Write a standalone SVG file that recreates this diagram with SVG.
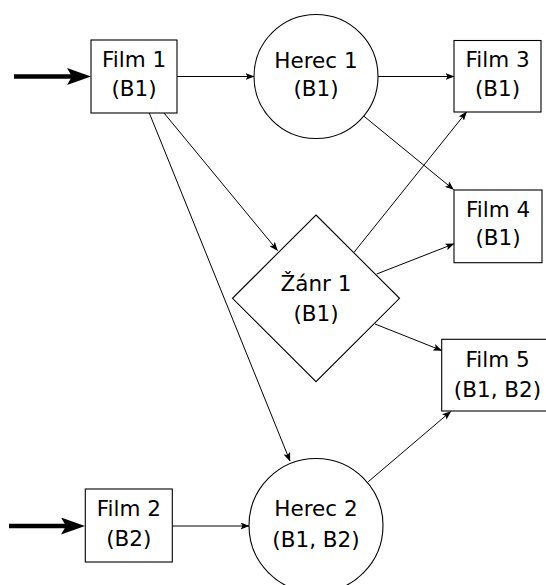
<svg xmlns="http://www.w3.org/2000/svg" width="546" height="585" viewBox="0 0 546 585">
<defs>
<style>
.n{fill:#fff;stroke:#000;stroke-width:1.1}
.t{font-family:"DejaVu Sans",sans-serif;font-size:21.5px;fill:#000;text-anchor:middle}
.c{fill:none;stroke:#000;stroke-width:1}
.th{fill:none;stroke:#000;stroke-width:4.5}
</style>
<marker id="tip" markerUnits="userSpaceOnUse" markerWidth="9" markerHeight="7" refX="8.5" refY="3.5" orient="auto" viewBox="0 0 9 7">
<path d="M0,0 L9,3.5 L0,7 L2,3.5 Z" fill="#000"/>
</marker>
<marker id="big" markerUnits="userSpaceOnUse" markerWidth="24" markerHeight="17" refX="12" refY="8.5" orient="auto" viewBox="0 0 24 17">
<path d="M0,0 L24,8.5 L0,17 L5,8.5 Z" fill="#000"/>
</marker>
</defs>
<g id="connectors">
<path class="th" d="M14,76.5 L79,76.5" marker-end="url(#big)"/>
<path class="th" d="M9,526 L73,526" marker-end="url(#big)"/>
<path class="c" d="M177,76.5 L254,76.5" marker-end="url(#tip)"/>
<path class="c" d="M378,76.5 L454,76.5" marker-end="url(#tip)"/>
<path class="c" d="M363.3,115.7 L453.5,189.5" marker-end="url(#tip)"/>
<path class="c" d="M164,113 L277.5,250.5" marker-end="url(#tip)"/>
<path class="c" d="M149.3,113 L290,461" marker-end="url(#tip)"/>
<path class="c" d="M354,252.3 L466.5,112" marker-end="url(#tip)"/>
<path class="c" d="M376.7,274 L454,243.8" marker-end="url(#tip)"/>
<path class="c" d="M375,324 L441.7,350.5" marker-end="url(#tip)"/>
<path class="c" d="M368.3,481.7 L450.7,411.5" marker-end="url(#tip)"/>
<path class="c" d="M172.3,526 L249,526" marker-end="url(#tip)"/>
</g>
<g id="film1">
<rect class="n" x="91" y="40" width="86" height="73"/>
<text class="t" x="134" y="67">Film 1</text>
<text class="t" x="134" y="96">(B1)</text>
</g>
<g id="herec1">
<circle class="n" cx="316" cy="76.5" r="62"/>
<text class="t" x="316" y="67.5">Herec 1</text>
<text class="t" x="316" y="96">(B1)</text>
</g>
<g id="film3">
<rect class="n" x="454" y="40.5" width="87" height="71.5"/>
<text class="t" x="497.5" y="67">Film 3</text>
<text class="t" x="497.5" y="95.5">(B1)</text>
</g>
<g id="film4">
<rect class="n" x="454" y="190" width="88" height="72.7"/>
<text class="t" x="498" y="216.7">Film 4</text>
<text class="t" x="498" y="245">(B1)</text>
</g>
<g id="zanr1">
<polygon class="n" points="316,215 399.5,298.3 316,381.7 232.5,298.3"/>
<text class="t" x="316" y="290.7">Žánr 1</text>
<text class="t" x="316" y="320.5">(B1)</text>
</g>
<g id="film5">
<rect class="n" x="441.7" y="339.3" width="112" height="71.7"/>
<text class="t" x="497.5" y="366.7">Film 5</text>
<text class="t" x="497.5" y="396.7">(B1, B2)</text>
</g>
<g id="film2">
<rect class="n" x="85.3" y="489" width="87" height="73"/>
<text class="t" x="128.8" y="516">Film 2</text>
<text class="t" x="128.8" y="546">(B2)</text>
</g>
<g id="herec2">
<circle class="n" cx="316" cy="525.5" r="67"/>
<text class="t" x="316" y="516">Herec 2</text>
<text class="t" x="316" y="546.5">(B1, B2)</text>
</g>
</svg>
